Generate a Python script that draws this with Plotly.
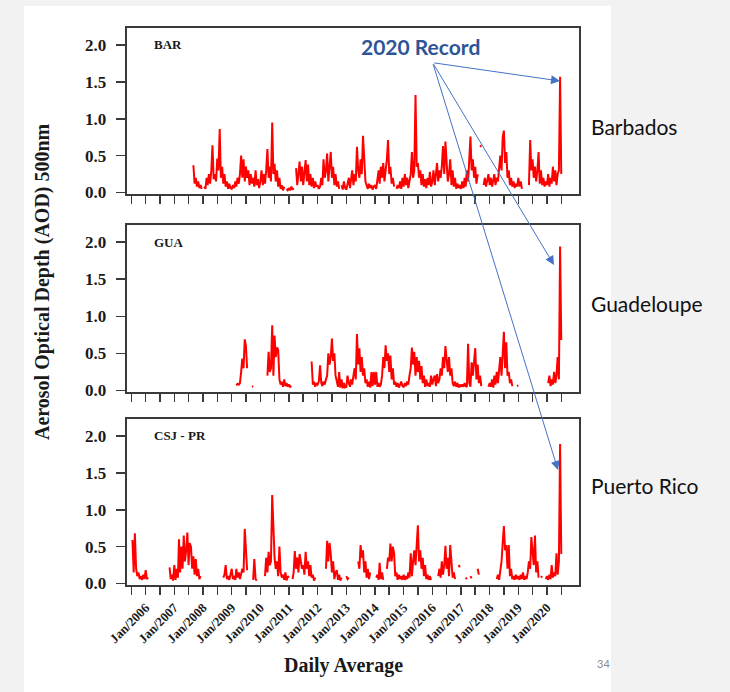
import pandas as pd
import plotly.graph_objects as go

N = None
W, H = 730, 692

# ---------------- data ----------------
# Aerosol optical depth (500 nm), daily-average traces,
# sampled on the 1st and 16th of each month. One row per year;
# the 2005 row starts in July, the 2020 row ends mid-July.
first_year = 2005
first_month = 7

bar_aod = [
    [N] * 12,                                                                                   # 2005
    [N] * 24,                                                                                   # 2006
    [N] * 16 + [0.37, 0.12, 0.2, 0.08, 0.15, 0.06, 0.1, 0.05],                                  # 2007
    [N, 0.08, 0.05, 0.2, 0.1, 0.25, 0.12, 0.3, 0.64, 0.18, 0.25, 0.15,
     0.46, 0.3, 0.86, 0.2, 0.35, 0.12, 0.25, 0.08, 0.15, 0.05, 0.12, 0.06],                    # 2008
    [0.05, 0.1, 0.06, 0.15, 0.08, 0.2, 0.12, 0.25, 0.5, 0.2, 0.45, 0.15,
     0.35, 0.2, 0.3, 0.1, 0.25, 0.12, 0.2, 0.08, 0.3, 0.1, 0.18, 0.06],                         # 2009
    [0.15, 0.3, 0.1, 0.25, 0.12, 0.3, 0.59, 0.2, 0.35, 0.15, 0.95, 0.25,
     0.39, 0.15, 0.3, 0.08, 0.2, 0.05, 0.1, 0.03, 0.08, N, 0.05, 0.03],                         # 2010
    [0.06, 0.03, 0.08, 0.04, 0.06, N, 0.33, 0.1, 0.25, 0.42, 0.15, 0.35,
     0.1, 0.3, 0.44, 0.15, 0.38, 0.1, 0.25, 0.08, 0.2, 0.06, 0.15, 0.08],                       # 2011
    [0.1, 0.05, 0.08, 0.2, 0.1, 0.45, 0.2, 0.3, 0.53, 0.15, 0.4, 0.55,
     0.2, 0.35, 0.1, 0.25, 0.08, 0.15, 0.05, N, 0.1, 0.04, 0.15, 0.06],                         # 2012
    [0.04, 0.1, 0.2, 0.06, 0.15, 0.3, 0.1, 0.25, 0.15, 0.62, 0.3, 0.2,
     0.45, 0.25, 0.77, 0.35, 0.15, 0.1, 0.05, 0.12, 0.06, 0.1, 0.04, 0.08],                     # 2013
    [0.1, 0.05, 0.15, 0.3, 0.12, 0.35, 0.2, 0.4, 0.15, 0.3, 0.45, 0.71,
     0.25, 0.35, 0.12, 0.2, 0.08, N, 0.05, 0.1, 0.06, 0.15, 0.05, 0.2],                         # 2014
    [0.08, 0.25, 0.1, 0.2, 0.06, 0.15, 0.25, 0.55, 0.2, 0.3, 1.32, 0.35,
     0.4, 0.2, 0.3, 0.1, 0.25, 0.08, 0.18, 0.06, 0.2, 0.1, 0.28, 0.08],                         # 2015
    [0.15, 0.3, 0.1, 0.25, 0.4, 0.15, 0.3, 0.2, 0.35, 0.63, 0.25, 0.69,
     0.3, 0.15, 0.25, 0.45, 0.1, 0.3, 0.08, 0.2, 0.05, 0.12, 0.06, 0.1],                        # 2016
    [0.05, 0.15, 0.06, 0.2, 0.08, 0.3, 0.15, 0.5, 0.76, 0.3, 0.45, 0.2,
     0.35, 0.12, 0.25, N, 0.64, 0.62, N, 0.1, 0.2, 0.08, 0.15, 0.25],                           # 2017
    [0.1, 0.2, 0.08, 0.15, 0.25, 0.1, 0.2, 0.15, 0.35, 0.5, 0.3, 0.75,
     0.84, 0.4, 0.55, 0.2, 0.3, 0.1, 0.2, 0.08, 0.15, 0.06, 0.12, 0.08],                        # 2018
    [0.2, 0.08, 0.15, 0.05, N, N, N, N, N, 0.1, 0.71, 0.3,
     0.45, 0.2, 0.35, 0.15, 0.3, 0.55, 0.12, 0.3, 0.1, 0.2, 0.08, 0.15],                        # 2019
    [0.1, 0.25, 0.08, 0.2, 0.12, 0.35, 0.15, 0.3, 0.1, 0.25, 0.3, 1.57, 0.25, N],               # 2020
]

gua_aod = [
    [N] * 12,                                                                                   # 2005
    [N] * 24,                                                                                   # 2006
    [N] * 24,                                                                                   # 2007
    [N] * 24,                                                                                   # 2008
    [N, N, N, N, 0.07, 0.09, 0.08, 0.1, 0.25, 0.43, 0.3, 0.69,
     0.6, 0.3, N, N, N, 0.06, 0.05, N, N, N, N, N],                                            # 2009
    [N, N, N, N, N, N, 0.2, 0.52, 0.25, 0.3, 0.88, 0.2,
     0.74, 0.45, 0.58, 0.55, 0.15, 0.08, 0.12, 0.05, 0.15, 0.06, 0.1, 0.05],                    # 2010
    [0.08, 0.05, 0.06] + [N] * 16 + [0.39, 0.08, 0.12, 0.05, 0.1],                             # 2011
    [0.08, 0.12, 0.34, 0.1, 0.06, 0.12, 0.08, 0.15, 0.2, 0.5, 0.35, 0.45,
     0.7, 0.4, 0.5, 0.2, 0.12, 0.05, 0.25, 0.04, 0.15, 0.03, 0.1, 0.04],                        # 2012
    [0.05, 0.2, 0.1, 0.05, 0.15, 0.08, 0.2, 0.3, 0.15, 0.76, 0.35, 0.57,
     0.25, 0.45, 0.2, 0.3, 0.1, 0.15, 0.05, 0.12, 0.04, 0.25, 0.06, 0.25],                      # 2013
    [0.08, 0.25, 0.05, 0.1, 0.05, 0.08, 0.2, 0.45, 0.3, 0.61, 0.4, 0.5,
     0.25, 0.47, 0.15, 0.3, 0.08, 0.12, 0.05, 0.1, 0.04, 0.08, 0.12, 0.06],                     # 2014
    [0.05, 0.1, 0.06, 0.12, 0.08, 0.2, 0.3, 0.58, 0.35, 0.52, 0.2, 0.45,
     0.25, 0.4, 0.15, 0.33, 0.1, 0.2, 0.05, 0.15, 0.06, 0.1, 0.05, 0.2],                        # 2015
    [0.08, 0.15, 0.2, 0.06, 0.22, 0.1, 0.15, 0.3, 0.2, 0.45, 0.3, 0.6,
     0.4, 0.25, 0.45, 0.2, 0.3, 0.1, 0.06, 0.12, 0.05, 0.1, 0.04, 0.08],                        # 2016
    [0.05, 0.08, 0.05, 0.1, 0.06, 0.05, 0.63, 0.1, 0.05, 0.38, 0.2, 0.4,
     0.57, 0.15, 0.35, 0.1, 0.2, 0.06, N, N, N, N, N, 0.05],                                    # 2017
    [0.1, 0.05, 0.15, 0.04, 0.2, 0.08, 0.25, 0.1, 0.3, 0.45, 0.2, 0.6,
     0.79, 0.3, 0.65, 0.2, 0.25, 0.1, 0.15, 0.06, N, N, N, 0.06],                               # 2018
    [0.07] + [N] * 23,                                                                          # 2019
    [N, 0.1, 0.2, 0.06, 0.15, 0.08, 0.25, 0.1, 0.2, 0.45, 0.15, 1.94, 0.68, N],                # 2020
]

csj_aod = [
    [N, 0.59, 0.15, 0.68, 0.2, 0.1, 0.15, 0.06, 0.1, 0.05, 0.12, 0.06],                        # 2005
    [0.18, 0.06, 0.08] + [N] * 17 + [0.22, 0.06, 0.12, 0.04],                                  # 2006
    [0.25, 0.05, 0.2, 0.08, 0.6, 0.15, 0.5, 0.2, 0.65, 0.3, 0.45, 0.69,
     0.25, 0.55, 0.5, 0.2, 0.37, 0.12, 0.33, 0.1, 0.2, 0.06, 0.1, N],                           # 2007
    [N] * 17 + [0.08, 0.12, 0.25, 0.06, 0.1, 0.05, 0.12],                                      # 2008
    [0.2, 0.06, 0.1, 0.05, 0.2, 0.08, 0.15, 0.06, 0.12, 0.2, 0.15, 0.74,
     0.47, 0.18, N, N, N, N, 0.05, 0.33, 0.06, 0.04, N, N],                                     # 2009
    [N, N, N, N, 0.1, 0.35, 0.15, 0.43, 0.25, 0.3, 1.2, 0.72,
     0.35, 0.2, 0.3, 0.1, 0.5, 0.15, 0.08, 0.12, 0.05, 0.15, 0.04, 0.1],                        # 2010
    [0.08, N, N, 0.06, 0.15, 0.44, 0.2, 0.35, 0.15, 0.4, 0.3, 0.2,
     0.25, 0.12, 0.43, 0.2, 0.3, 0.1, 0.25, 0.08, 0.12, 0.04, 0.08, N],                         # 2011
    [N, N, N, N, N, N, N, 0.2, 0.58, 0.3, 0.55, 0.4,
     0.15, 0.3, 0.06, 0.15, 0.18, 0.05, 0.12, 0.04, 0.08, N, N, N],                             # 2012
    [0.1, 0.06, 0.08, N, N, N, N, N, N, N, 0.3, 0.2,
     0.52, 0.35, 0.45, 0.15, 0.3, 0.08, 0.2, 0.06, 0.15, N, N, N],                              # 2013
    [N, 0.08, 0.12, 0.05, 0.28, 0.06, 0.15, 0.05, N, N, 0.2, 0.35,
     0.3, 0.54, 0.3, 0.5, 0.41, 0.1, 0.15, 0.05, 0.12, 0.06, 0.1, 0.05],                        # 2014
    [0.12, 0.05, 0.1, 0.06, 0.15, 0.08, 0.41, 0.1, 0.3, 0.45, 0.25, 0.6,
     0.79, 0.3, 0.45, 0.2, 0.35, 0.1, 0.25, 0.06, 0.12, 0.05, 0.1, 0.05],                       # 2015
    [N, N, N, N, N, 0.1, 0.2, 0.08, 0.3, 0.12, 0.25, 0.51,
     0.2, 0.35, 0.1, 0.52, 0.2, 0.08, 0.15, 0.06, N, N, 0.25, 0.22],                            # 2016
    [N, N, N, N, 0.08, 0.06, N, N, 0.1, 0.07, N, N,
     N, N, 0.2, 0.12, N, N, N, N, N, N, N, N],                                                  # 2017
    [N, N, N, N, N, N, 0.06, 0.12, 0.05, 0.15, 0.3, 0.55,
     0.78, 0.45, 0.52, 0.2, 0.52, 0.1, 0.2, 0.06, 0.1, 0.05, 0.12, 0.06],                       # 2018
    [0.1, 0.05, 0.12, 0.06, 0.15, 0.05, 0.1, 0.06, 0.15, 0.3, 0.2, 0.63,
     0.4, 0.25, 0.65, 0.15, 0.3, 0.08, N, 0.1, 0.08, N, N, 0.06],                               # 2019
    [0.1, 0.05, 0.12, 0.06, 0.25, 0.08, 0.15, 0.1, 0.41, 0.12, 0.3, 1.89, 0.4, N],             # 2020
]

panel_codes = ["BAR", "GUA", "CSJ - PR"]
site_names = ["Barbados", "Guadeloupe", "Puerto Rico"]
y_tick_vals = [0, 0.5, 1.0, 1.5, 2.0]
y_tick_text = ["0.0", "0.5", "1.0", "1.5", "2.0"]
y_title = "Aerosol Optical Depth (AOD) 500nm"
x_title = "Daily Average"
callout = "2020 Record"
slide_number = "34"


def expand(rows):
    xs, ys = [], []
    for k, row in enumerate(rows):
        yr = first_year + k
        m0 = first_month if k == 0 else 1
        for i, v in enumerate(row):
            m = m0 + i // 2
            if m > 12:
                break
            xs.append(pd.Timestamp(yr, m, 1 if i % 2 == 0 else 16))
            ys.append(v)
    return xs, ys


def fx(px):
    return px / W


def fy(py):
    return 1 - py / H


# ---------------- layout geometry (pixels) ----------------
x_left, x_right = 126.7, 579
panels_px = [(28, 194), (225, 392), (419, 585)]
x_range = ["2005-05-04", "2021-02-12"]

tickvals, ticktext = [], []
for yv in range(2005, 2021):
    for m in (1, 7):
        t = pd.Timestamp(yv, m, 1)
        if pd.Timestamp(2005, 7, 1) <= t <= pd.Timestamp(2020, 7, 1):
            tickvals.append(t)
            ticktext.append(f"Jan/{yv}" if m == 1 else "")

fig = go.Figure()
series = [bar_aod, gua_aod, csj_aod]
frame_col = "#3a3a3a"
serif = "Liberation Serif"

for k, rows in enumerate(series):
    xs, ys = expand(rows)
    sfx = "" if k == 0 else str(k + 1)
    fig.add_trace(go.Scatter(
        x=xs, y=ys, mode="lines", connectgaps=False,
        line=dict(color="#ff0000", width=2),
        xaxis="x" + sfx, yaxis="y" + sfx, showlegend=False, hoverinfo="skip"))
    top, bot = panels_px[k]
    fig.layout["xaxis" + sfx] = dict(
        domain=[fx(x_left), fx(x_right)], anchor="y" + sfx, type="date",
        range=x_range, tickmode="array", tickvals=tickvals, ticktext=ticktext,
        showticklabels=(k == 2), tickangle=-45, ticks="outside", ticklen=8,
        tickwidth=1.5, tickcolor=frame_col, showline=True, mirror=True,
        linecolor=frame_col, linewidth=2, showgrid=False, zeroline=False,
        automargin=False,
        tickfont=dict(family=serif, size=13, color="#1a1a1a", weight="bold"))
    fig.layout["yaxis" + sfx] = dict(
        domain=[fy(bot), fy(top)], anchor="x" + sfx, range=[-0.02, 2.23],
        tickmode="array", tickvals=y_tick_vals, ticktext=y_tick_text,
        ticks="outside", ticklen=9, tickwidth=1.5, tickcolor=frame_col,
        showline=True, mirror=True, linecolor=frame_col, linewidth=2,
        showgrid=False, zeroline=False, automargin=False,
        ticklabelstandoff=6,
        tickfont=dict(family=serif, size=17, color="#1a1a1a", weight="bold"))

annotations = []
# panel codes
for k, code in enumerate(panel_codes):
    sfx = "" if k == 0 else str(k + 1)
    annotations.append(dict(
        x=fx(152), xref="paper", y=2.0, yref="y" + sfx, text=code,
        showarrow=False, xanchor="left", yanchor="middle",
        font=dict(family=serif, size=13, color="#1a1a1a", weight="bold")))

# site names on the right
for name, ypx in zip(site_names, [126, 303, 485]):
    annotations.append(dict(
        x=fx(589), y=fy(ypx), xref="paper", yref="paper", text=name,
        showarrow=False, xanchor="left", yanchor="middle",
        font=dict(family="Lato", size=21, color="#111111")))

# axis titles
annotations.append(dict(
    x=fx(42), y=fy(282), xref="paper", yref="paper", text=y_title,
    textangle=-90, showarrow=False, xanchor="center", yanchor="middle",
    font=dict(family=serif, size=20, color="#1a1a1a", weight="bold")))
annotations.append(dict(
    x=fx(343), y=fy(665), xref="paper", yref="paper", text=x_title,
    showarrow=False, xanchor="center", yanchor="middle",
    font=dict(family=serif, size=20, color="#1a1a1a", weight="bold")))

# callout text
annotations.append(dict(
    x=fx(420), y=fy(46), xref="paper", yref="paper", text=callout,
    showarrow=False, xanchor="center", yanchor="middle",
    font=dict(family="Lato", size=21, color="#2F5597", weight="bold")))

# arrows from callout to record spikes
tail = (432.7, 62.7)
for tip in [(560, 81), (554, 265), (558, 470)]:
    annotations.append(dict(
        x=fx(tip[0]), y=fy(tip[1]), xref="paper", yref="paper", text="",
        showarrow=True, ax=tail[0] - tip[0], ay=tail[1] - tip[1],
        axref="pixel", ayref="pixel", arrowhead=2, arrowsize=1.8,
        arrowwidth=1, arrowcolor="#4472C4", standoff=0, startstandoff=0))

# slide number
annotations.append(dict(
    x=fx(603), y=fy(663), xref="paper", yref="paper", text=slide_number,
    showarrow=False, xanchor="center", yanchor="middle",
    font=dict(family="Lato", size=11, color="#8c8c8c")))

fig.update_layout(
    width=W, height=H, margin=dict(l=0, r=0, t=0, b=0),
    paper_bgcolor="#f2f2f2", plot_bgcolor="white",
    annotations=annotations,
    shapes=[dict(type="rect", xref="paper", yref="paper",
                 x0=fx(24), x1=fx(611), y0=0, y1=fy(6),
                 fillcolor="white", line=dict(width=0), layer="below")],
)

fig.write_html(
    "out.html",
    config={"displayModeBar": False, "staticPlot": True},
    post_script="document.body.style.margin='0';"
                "document.body.style.overflow='hidden';"
                "document.body.style.backgroundColor='#f2f2f2';",
)
